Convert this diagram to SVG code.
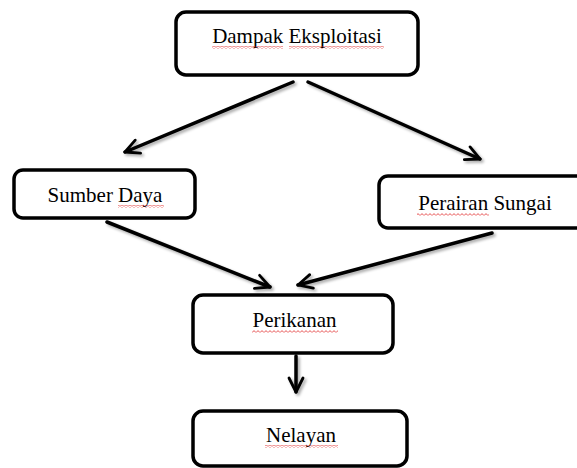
<svg xmlns="http://www.w3.org/2000/svg" width="577" height="468" viewBox="0 0 577 468">
<defs>
<style>
.box{fill:#fff;stroke:#000;stroke-width:3.5}
.lbl{font-family:"Liberation Serif","Times New Roman",serif;font-size:21px;fill:#000;text-anchor:middle}
.edge{fill:none;stroke:#000;stroke-width:3.5;stroke-linecap:round}
.wave{fill:url(#wv)}
</style>
<pattern id="wv" x="0" y="0" width="4" height="3" patternUnits="userSpaceOnUse">
<path d="M-1,2 L0,2.6 L2,0.6 L4,2.6 L5,2" fill="none" stroke="#e02020" stroke-width="0.8"/>
</pattern>
<marker id="ah" viewBox="0 0 10 10" refX="9" refY="5" markerWidth="5" markerHeight="5" markerUnits="strokeWidth" orient="auto">
<path d="M1,1 L9,5 L1,9" fill="none" stroke="#000" stroke-width="1.6" stroke-linecap="round" stroke-linejoin="round"/>
</marker>
<filter id="sh" x="-20%" y="-20%" width="140%" height="140%">
<feGaussianBlur in="SourceAlpha" stdDeviation="1.5"/>
<feOffset dx="1.5" dy="2" result="b"/>
<feComponentTransfer><feFuncA type="linear" slope="0.35"/></feComponentTransfer>
<feMerge><feMergeNode/><feMergeNode in="SourceGraphic"/></feMerge>
</filter>
</defs>
<rect width="577" height="468" fill="#fff"/>
<g id="connectors" filter="url(#sh)">
<line class="edge" x1="293" y1="82" x2="125" y2="152" marker-end="url(#ah)"/>
<line class="edge" x1="308" y1="82" x2="480" y2="159" marker-end="url(#ah)"/>
<line class="edge" x1="107" y1="222" x2="270" y2="287" marker-end="url(#ah)"/>
<line class="edge" x1="492" y1="233" x2="298" y2="285" marker-end="url(#ah)"/>
<line class="edge" x1="296" y1="356" x2="296" y2="392" marker-end="url(#ah)"/>
</g>
<g id="node-dampak">
<rect class="box" x="176" y="12" width="242" height="63" rx="10"/>
<text class="lbl" x="297" y="43">Dampak Eksploitasi</text>
<rect class="wave" x="212" y="46" width="71" height="3"/>
<rect class="wave" x="289" y="46" width="95" height="3"/>
</g>
<g id="node-sumber">
<rect class="box" x="14" y="170" width="181" height="48" rx="9"/>
<text class="lbl" x="105" y="202">Sumber Daya</text>
<rect class="wave" x="118" y="205" width="46" height="3"/>
</g>
<g id="node-perairan">
<rect class="box" x="379" y="176" width="230" height="52" rx="9"/>
<text class="lbl" x="485" y="210">Perairan Sungai</text>
<rect class="wave" x="417" y="213" width="72" height="3"/>
</g>
<g id="node-perikanan">
<rect class="box" x="193" y="295" width="200" height="58" rx="10"/>
<text class="lbl" x="294.5" y="327">Perikanan</text>
<rect class="wave" x="252" y="330" width="86" height="3"/>
</g>
<g id="node-nelayan">
<rect class="box" x="193" y="411" width="214" height="55" rx="10"/>
<text class="lbl" x="301" y="442">Nelayan</text>
<rect class="wave" x="265" y="445" width="73" height="3"/>
</g>
</svg>
